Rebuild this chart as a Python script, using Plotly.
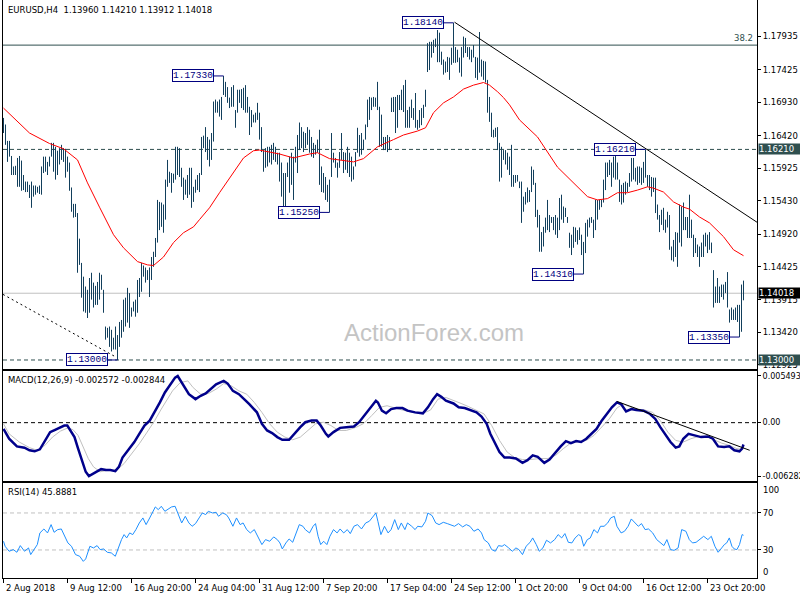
import plotly.graph_objects as go

# ---------------- data ----------------
bar_high = [1.1669,1.1659,1.1634,1.1634,1.1611,1.1595,1.1596,1.1608,1.1611,1.1604,
1.1582,1.1572,1.1572,1.1567,1.1572,1.1566,1.1566,1.1564,1.1566,1.1595,
1.1610,1.1610,1.1602,1.1610,1.1631,1.1631,1.1625,1.1619,1.1623,1.1628,
1.1623,1.1622,1.1610,1.1601,1.1563,1.1538,1.1538,1.1524,1.1485,1.1448,
1.1427,1.1412,1.1407,1.1425,1.1433,1.1418,1.1413,1.1419,1.1433,1.1430,
1.1407,1.1351,1.1349,1.1351,1.1346,1.1334,1.1351,1.1338,1.1358,1.1361,
1.1392,1.1395,1.1410,1.1402,1.1380,1.1389,1.1392,1.1422,1.1425,1.1448,
1.1444,1.1441,1.1437,1.1441,1.1457,1.1465,1.1486,1.1544,1.1541,1.1540,
1.1537,1.1575,1.1605,1.1587,1.1585,1.1584,1.1625,1.1625,1.1623,1.1593,
1.1578,1.1575,1.1582,1.1593,1.1593,1.1564,1.1575,1.1582,1.1585,1.1640,
1.1642,1.1655,1.1640,1.1636,1.1646,1.1694,1.1697,1.1694,1.1697,1.1701,
1.1733,1.1724,1.1716,1.1700,1.1716,1.1719,1.1681,1.1712,1.1712,1.1713,
1.1715,1.1719,1.1701,1.1686,1.1681,1.1674,1.1677,1.1692,1.1677,1.1655,
1.1620,1.1623,1.1625,1.1625,1.1628,1.1631,1.1625,1.1616,1.1616,1.1601,
1.1585,1.1585,1.1601,1.1610,1.1616,1.1610,1.1625,1.1643,1.1662,1.1655,
1.1648,1.1646,1.1655,1.1651,1.1640,1.1631,1.1628,1.1636,1.1651,1.1595,
1.1585,1.1579,1.1567,1.1575,1.1646,1.1616,1.1608,1.1601,1.1617,1.1646,
1.1617,1.1616,1.1625,1.1616,1.1610,1.1595,1.1617,1.1654,1.1643,1.1646,
1.1636,1.1659,1.1697,1.1701,1.1700,1.1701,1.1700,1.1724,1.1686,1.1674,
1.1640,1.1640,1.1643,1.1640,1.1700,1.1701,1.1701,1.1704,1.1704,1.1712,
1.1719,1.1727,1.1681,1.1686,1.1697,1.1684,1.1707,1.1666,1.1681,1.1684,
1.1689,1.1712,1.1783,1.1785,1.1785,1.1788,1.1790,1.1803,1.1799,1.1770,
1.1758,1.1755,1.1762,1.1761,1.1776,1.1814,1.1777,1.1773,1.1761,1.1777,
1.1793,1.1791,1.1777,1.1777,1.1773,1.1780,1.1762,1.1761,1.1800,1.1758,
1.1756,1.1755,1.1727,1.1701,1.1677,1.1651,1.1654,1.1655,1.1631,1.1625,
1.1620,1.1620,1.1616,1.1610,1.1628,1.1582,1.1582,1.1582,1.1572,1.1572,
1.1549,1.1556,1.1563,1.1559,1.1595,1.1590,1.1570,1.1529,1.1521,1.1495,
1.1503,1.1517,1.1544,1.1521,1.1518,1.1518,1.1521,1.1517,1.1547,1.1552,
1.1534,1.1532,1.1518,1.1494,1.1491,1.1503,1.1502,1.1498,1.1502,1.1491,
1.1480,1.1509,1.1514,1.1517,1.1518,1.1514,1.1544,1.1544,1.1544,1.1544,
1.1575,1.1601,1.1601,1.1605,1.1601,1.1610,1.1613,1.1601,1.1575,1.1567,
1.1570,1.1572,1.1570,1.1585,1.1608,1.1608,1.1593,1.1595,1.1595,1.1593,
1.1602,1.1621,1.1582,1.1582,1.1579,1.1578,1.1578,1.1537,1.1521,1.1529,
1.1532,1.1514,1.1526,1.1521,1.1473,1.1483,1.1495,1.1494,1.1537,1.1534,
1.1540,1.1518,1.1518,1.1552,1.1514,1.1491,1.1486,1.1476,1.1473,1.1479,
1.1491,1.1494,1.1491,1.1495,1.1479,1.1437,1.1412,1.1425,1.1412,1.1415,
1.1415,1.1419,1.1434,1.1377,1.1380,1.1377,1.1380,1.1384,1.1384,1.1415,
1.1421]
bar_low = [1.1646,1.1628,1.1602,1.1610,1.1582,1.1582,1.1582,1.1564,1.1564,1.1558,
1.1559,1.1556,1.1556,1.1547,1.1532,1.1549,1.1552,1.1555,1.1553,1.1552,
1.1585,1.1587,1.1582,1.1595,1.1610,1.1587,1.1575,1.1582,1.1598,1.1605,
1.1602,1.1578,1.1587,1.1558,1.1526,1.1517,1.1518,1.1433,1.1445,1.1395,
1.1374,1.1372,1.1364,1.1372,1.1392,1.1380,1.1384,1.1384,1.1392,1.1407,
1.1372,1.1331,1.1334,1.1320,1.1313,1.1316,1.1316,1.1300,1.1320,1.1334,
1.1343,1.1351,1.1357,1.1349,1.1366,1.1374,1.1366,1.1372,1.1396,1.1404,
1.1427,1.1418,1.1422,1.1396,1.1422,1.1442,1.1457,1.1479,1.1498,1.1503,
1.1494,1.1514,1.1564,1.1570,1.1555,1.1570,1.1575,1.1582,1.1579,1.1564,
1.1544,1.1552,1.1547,1.1552,1.1532,1.1541,1.1555,1.1559,1.1556,1.1582,
1.1623,1.1617,1.1605,1.1595,1.1605,1.1633,1.1677,1.1677,1.1671,1.1666,
1.1704,1.1701,1.1692,1.1684,1.1686,1.1686,1.1654,1.1677,1.1692,1.1684,
1.1681,1.1677,1.1677,1.1643,1.1655,1.1662,1.1662,1.1666,1.1636,1.1617,
1.1587,1.1593,1.1595,1.1601,1.1598,1.1605,1.1602,1.1598,1.1572,1.1549,
1.1534,1.1530,1.1579,1.1555,1.1567,1.1544,1.1601,1.1585,1.1620,1.1623,
1.1617,1.1623,1.1628,1.1616,1.1610,1.1608,1.1613,1.1616,1.1567,1.1556,
1.1555,1.1544,1.1541,1.1525,1.1579,1.1601,1.1593,1.1578,1.1593,1.1605,
1.1585,1.1590,1.1585,1.1579,1.1572,1.1575,1.1595,1.1616,1.1610,1.1613,
1.1620,1.1636,1.1655,1.1666,1.1681,1.1686,1.1686,1.1681,1.1625,1.1625,
1.1620,1.1620,1.1617,1.1620,1.1678,1.1678,1.1646,1.1654,1.1681,1.1681,
1.1678,1.1654,1.1654,1.1654,1.1669,1.1666,1.1654,1.1651,1.1654,1.1658,
1.1669,1.1686,1.1739,1.1742,1.1761,1.1768,1.1777,1.1754,1.1754,1.1750,
1.1735,1.1738,1.1739,1.1727,1.1750,1.1753,1.1753,1.1754,1.1738,1.1732,
1.1761,1.1768,1.1762,1.1758,1.1754,1.1761,1.1730,1.1727,1.1738,1.1732,
1.1727,1.1723,1.1677,1.1663,1.1640,1.1639,1.1640,1.1620,1.1572,1.1578,
1.1605,1.1598,1.1590,1.1582,1.1564,1.1564,1.1570,1.1572,1.1562,1.1509,
1.1526,1.1537,1.1540,1.1541,1.1556,1.1567,1.1518,1.1502,1.1465,1.1465,
1.1473,1.1494,1.1498,1.1495,1.1509,1.1498,1.1491,1.1486,1.1498,1.1514,
1.1509,1.1518,1.1509,1.1471,1.1460,1.1471,1.1480,1.1476,1.1483,1.1460,
1.1431,1.1463,1.1488,1.1502,1.1509,1.1486,1.1498,1.1514,1.1529,1.1533,
1.1540,1.1559,1.1579,1.1582,1.1564,1.1578,1.1575,1.1575,1.1541,1.1537,
1.1540,1.1552,1.1556,1.1564,1.1572,1.1575,1.1572,1.1567,1.1570,1.1567,
1.1570,1.1578,1.1564,1.1559,1.1549,1.1556,1.1524,1.1514,1.1495,1.1506,
1.1498,1.1494,1.1502,1.1468,1.1452,1.1450,1.1457,1.1442,1.1479,1.1473,
1.1498,1.1498,1.1486,1.1486,1.1486,1.1457,1.1463,1.1457,1.1442,1.1457,
1.1457,1.1473,1.1463,1.1468,1.1463,1.1380,1.1387,1.1387,1.1387,1.1396,
1.1392,1.1402,1.1380,1.1357,1.1361,1.1361,1.1361,1.1358,1.1335,1.1343,
1.1391]
bar_index = list(range(1, len(bar_high) + 1))

ma_index = [1,14,24,31,38,43,49,56,61,68,73,76,81,86,91,96,99,104,109,116,121,126,129,139,146,
            154,158,164,176,181,188,196,201,208,212,216,221,226,231,236,241,244,248,251,254,259,
            268,278,286,293,298,303,308,313,318,323,326,331,336,341,344,349,354,361,366,371]
ma_value = [1.1684,1.1646,1.1630,1.1622,1.1605,1.1570,1.1533,1.1491,1.1471,1.1450,1.1445,1.1444,
            1.1457,1.1479,1.1494,1.1503,1.1514,1.1532,1.1555,1.1587,1.1608,1.1619,1.1620,1.1614,
            1.1608,1.1614,1.1616,1.1607,1.1602,1.1607,1.1625,1.1636,1.1643,1.1649,1.1654,1.1677,
            1.1692,1.1701,1.1713,1.1719,1.1723,1.1719,1.1709,1.1700,1.1689,1.1666,1.1640,1.1594,
            1.1570,1.1549,1.1544,1.1546,1.1555,1.1555,1.1559,1.1564,1.1562,1.1556,1.1541,1.1533,
            1.1530,1.1518,1.1509,1.1488,1.1468,1.1459]

macd_index = [1,3.8,7.7,11.5,14.0,16.6,19.2,22.2,24.3,26.8,28.9,31.4,32.9,34.5,36.5,38.3,40.1,42.1,
              43.7,46.0,49.8,52.3,54.4,56.9,58.7,60.5,62.6,64.6,66.4,68.9,71.5,74.1,76.6,79.2,81.7,
              84.3,86.8,88.1,90.1,91.9,93.7,97.0,99.6,102.1,104.7,107.3,111.1,113.1,115.7,118.7,
              121.3,123.9,127.7,130.2,132.8,135.3,137.9,140.4,143.8,146.3,149.4,151.9,155.0,157.6,
              159.6,162.2,163.4,166.0,169.3,172.4,176.2,178.8,182.1,185.1,187.2,188.2,190.2,192.3,
              194.8,197.4,200.5,203.0,206.8,210.7,213.2,215.8,217.8,219.9,222.2,226.0,228.6,231.6,
              234.2,237.5,240.0,242.6,244.4,246.4,249.0,251.5,254.1,257.2,260.5,263.0,265.6,268.1,
              271.4,274.0,277.1,279.6,282.2,284.7,287.3,289.8,292.4,294.9,297.5,300.1,302.6,305.2,
              307.7,309.8,312.3,314.9,317.4,321.0,324.3,326.9,329.4,332.0,334.5,337.1,338.9,340.9,
              343.5,346.5,349.8,353.2,355.7,358.3,361.3,363.9,366.4,369.0,370.3,371]
macd_value = [-0.00073,-0.00189,-0.00279,-0.00294,-0.00325,-0.00337,-0.00314,-0.00189,-0.00111,
              -0.00084,-0.00061,-0.00034,-0.00034,-0.00092,-0.0017,-0.00306,-0.00442,-0.00578,
              -0.00628,-0.00597,-0.00547,-0.00558,-0.00558,-0.0057,-0.0052,-0.00411,-0.00345,
              -0.00287,-0.00228,-0.00131,-0.00034,0.00024,0.00122,0.00238,0.00355,0.00452,0.0053,
              0.00549,0.00472,0.00394,0.00335,0.00277,0.00316,0.00343,0.00394,0.00452,0.00491,
              0.0046,0.00374,0.00335,0.00277,0.00219,0.00122,-0.00014,-0.00092,-0.00123,-0.0017,
              -0.00201,-0.00201,-0.00131,-0.00053,0.00005,0.00024,0.00024,-0.00034,-0.00131,
              -0.00162,-0.00111,-0.00061,-0.00053,-0.00045,0.00005,0.00102,0.00199,0.00258,0.00238,
              0.00141,0.0011,0.0016,0.00172,0.00172,0.00141,0.00121,0.0011,0.0018,0.00277,0.00335,
              0.00304,0.00258,0.00226,0.0018,0.00172,0.00148,0.00121,0.00071,-0.00014,-0.00131,
              -0.00228,-0.00345,-0.00411,-0.00411,-0.00422,-0.00473,-0.00442,-0.00384,-0.00403,
              -0.00473,-0.00434,-0.00345,-0.00279,-0.00217,-0.0024,-0.00217,-0.00228,-0.00189,
              -0.00131,-0.00073,0.00024,0.00102,0.0018,0.00238,0.00219,0.00133,0.0016,0.00148,
              0.00141,0.00102,0.00044,-0.00053,-0.0015,-0.00228,-0.00294,-0.00279,-0.00189,-0.00131,
              -0.0015,-0.0017,-0.00162,-0.00189,-0.00279,-0.00286,-0.00279,-0.00325,-0.00337,
              -0.00306,-0.002572]
signal_index = [1,3.8,8.9,14.0,17.9,21.7,25.5,29.4,33.2,35.8,38.3,40.9,43.4,46.0,49.3,53.6,57.5,
                61.3,65.1,68.9,72.8,76.6,79.9,83.0,85.5,89.4,93.2,95.8,99.6,103.4,107.3,111.1,114.9,
                118.7,122.6,126.4,130.2,134.1,137.9,141.7,145.6,149.4,153.2,157.0,160.9,164.7,168.5,
                172.4,177.5,181.3,185.1,189.0,192.8,196.6,200.5,205.6,210.7,214.5,218.3,222.2,226.0,
                229.8,233.7,237.5,241.3,245.1,249.0,252.8,256.6,260.5,264.3,269.4,273.2,277.1,280.9,
                284.7,288.6,292.4,296.2,300.1,303.9,307.7,310.8,314.1,317.9,321.7,325.6,329.4,333.2,
                337.1,340.9,344.7,348.5,352.4,356.2,360.0,363.9,367.7,370.3,371]
signal_value = [-0.00014,-0.00131,-0.00228,-0.00294,-0.00325,-0.00267,-0.0017,-0.001,-0.00061,
                -0.00084,-0.0015,-0.00287,-0.00423,-0.0052,-0.00578,-0.00558,-0.00558,-0.00481,
                -0.00364,-0.00248,-0.00112,0.00024,0.0016,0.00277,0.00374,0.00472,0.00491,0.00413,
                0.00335,0.00343,0.00394,0.0046,0.00433,0.00374,0.00335,0.00238,0.00121,-0.00014,
                -0.00112,-0.0017,-0.00201,-0.0017,-0.00092,-0.00014,0.00005,-0.00034,-0.00092,
                -0.00092,-0.00053,-0.00007,0.00083,0.0018,0.00199,0.00172,0.00148,0.00121,0.0011,
                0.00148,0.00277,0.00296,0.00265,0.00226,0.00187,0.00148,0.00102,-0.00034,-0.00209,
                -0.00345,-0.00411,-0.00434,-0.00434,-0.00422,-0.00422,-0.00384,-0.00306,-0.0024,
                -0.00228,-0.00209,-0.0015,-0.00053,0.00044,0.00172,0.00219,0.00187,0.0016,0.00148,
                0.00121,0.00024,-0.00112,-0.00209,-0.00228,-0.00189,-0.00162,-0.00162,-0.00201,
                -0.0024,-0.00267,-0.00306,-0.00314,-0.002844]

rsi_index = [1,1.8,3.8,5.9,7.7,9.4,11.5,13.5,14.6,16.1,17.9,19.2,21.2,23.0,24.8,26.3,28.1,29.9,31.4,
             33.2,35.0,37.0,39.1,40.9,42.1,44.2,46.0,47.8,49.3,51.1,52.9,54.9,56.9,58.7,60.0,61.3,
             62.6,64.1,65.6,67.2,68.9,70.7,72.3,74.1,75.3,76.9,78.4,79.9,81.7,83.0,85.0,86.8,88.1,
             90.1,91.9,93.7,95.3,97.0,98.8,100.4,102.1,103.4,105.5,107.3,108.5,110.6,112.4,113.6,
             115.7,117.5,119.3,120.8,122.6,124.4,126.4,128.4,130.2,132.0,134.1,136.1,137.9,139.2,
             140.4,142.2,143.8,145.6,147.3,148.9,150.7,151.9,154.0,155.8,157.0,158.3,159.6,161.1,
             162.7,164.2,166.0,167.8,169.3,171.1,172.9,174.4,176.2,178.0,180.0,182.1,183.9,185.6,
             187.2,188.2,189.7,191.5,193.3,194.8,196.6,198.4,199.9,201.7,203.0,205.1,206.8,208.1,
             210.2,212.0,213.2,215.3,217.1,218.8,220.9,222.9,224.7,226.5,228.5,230.6,232.4,234.2,
             236.2,238.3,240.0,241.3,243.4,245.1,246.9,248.5,250.3,251.5,253.6,255.4,257.2,258.7,
             260.5,262.3,264.3,265.6,267.4,268.9,270.7,272.5,274.5,276.6,278.3,280.1,281.7,283.4,
             285.2,286.8,288.6,289.8,291.1,292.9,294.4,296.2,298.0,299.5,301.3,303.1,304.6,306.4,
             307.7,309.8,311.5,313.3,314.9,316.6,318.4,320.0,321.8,323.5,325.6,327.6,329.4,331.2,
             332.7,334.5,336.3,338.3,340.1,342.2,343.9,345.5,347.3,349.1,351.1,353.2,354.9,356.7,
             358.3,360.1,361.4,362.6,363.9,365.2,366.4,367.7,369.0,370.3,371]
rsi_value = [39.4,34.0,28.6,30.4,27.5,34.7,28.6,32.2,25.0,30.4,35.8,48.4,52.7,48.4,57.4,49.1,52.0,
             52.7,46.6,37.6,34.0,25.0,23.2,17.7,20.3,34.0,32.2,34.7,30.4,31.1,27.5,26.8,23.2,34.0,
             41.2,46.6,43.0,48.4,46.6,52.0,59.2,64.6,57.4,64.6,70.0,76.5,73.6,77.2,71.8,73.6,76.5,
             77.2,70.0,59.2,66.4,59.2,55.6,58.5,64.6,70.0,68.2,71.8,70.0,70.7,66.4,70.0,68.2,64.6,
             55.6,64.6,57.4,59.2,52.0,48.4,52.0,43.0,35.8,41.2,39.4,44.1,41.2,37.6,31.1,37.6,41.9,
             38.3,48.4,57.4,55.6,52.0,48.4,55.6,58.5,44.8,35.8,39.4,35.8,44.8,52.0,48.4,52.7,48.4,
             52.0,47.7,55.6,57.4,52.7,59.2,61.0,65.7,70.0,61.0,46.6,55.6,48.4,52.0,62.8,52.0,59.2,
             52.0,59.2,55.6,52.0,55.6,54.9,61.0,70.0,67.1,59.2,57.4,59.9,58.5,57.4,55.6,58.5,54.9,
             57.4,55.6,50.2,52.7,48.4,41.2,37.6,30.4,28.6,34.7,34.0,35.8,32.2,28.6,32.2,30.4,25.0,
             34.0,38.3,43.0,35.8,28.6,32.2,40.5,37.6,41.2,46.6,43.0,47.7,38.3,37.6,43.0,46.6,44.8,
             34.0,41.2,43.0,52.0,48.4,55.6,55.6,59.2,64.6,66.4,55.6,48.4,50.2,55.6,63.5,59.2,55.6,
             58.5,52.0,52.7,48.4,41.2,37.6,34.7,41.2,30.4,29.6,32.2,52.0,50.2,41.2,37.6,38.3,41.2,
             44.8,41.2,44.8,34.0,27.5,32.2,35.8,37.6,43.0,34.0,31.1,30.4,35.8,46.6,45.9]

price_ticks = [1.17935, 1.17425, 1.16930, 1.16420, 1.15925, 1.15430, 1.14920, 1.14425, 1.13915, 1.13420, 1.12925]
macd_ticks = [0.005493, 0.0, -0.006282]
macd_tick_text = ["0.005493", "0.00", "-0.006282"]
rsi_ticks = [70, 30]
rsi_levels = [70, 30]

time_tick_index = [1, 33, 65, 97, 129, 161, 193, 225, 257, 289, 321, 353]
time_tick_text = ["2 Aug 2018", "9 Aug 12:00", "16 Aug 20:00", "24 Aug 04:00", "31 Aug 12:00",
                  "7 Sep 20:00", "17 Sep 04:00", "24 Sep 12:00", "1 Oct 20:00", "9 Oct 04:00",
                  "16 Oct 12:00", "23 Oct 20:00"]

fib_level = 1.1780
resistance_level = 1.16210
support_level = 1.13000
last_close = 1.14018

trend_down_x = [226.5, 377.75]
trend_down_y = [1.1815, 1.1510]
trend_low_x = [0.75, 57.5]
trend_low_y = [1.1400, 1.1304]
macd_trend_x = [307.7, 374.1]
macd_trend_y = [0.0025, -0.00325]

pivot_index = [226, 111, 164, 58, 291, 322, 369]
pivot_price = [1.18140, 1.17330, 1.15250, 1.13000, 1.14310, 1.16210, 1.13350]

# ---------------- styling ----------------
BAR = "#123f5c"
SLATE = "#2f4f4f"
NAVY = "#000080"
FONT = "DejaVu Sans"
FS = 8.5
XR = [0.75, 377.75]

fig = go.Figure()

bx, by = [], []
for i, h, l in zip(bar_index, bar_high, bar_low):
    bx += [i, i, None]
    by += [l, h, None]
fig.add_trace(go.Scatter(x=bx, y=by, mode="lines", line=dict(color=BAR, width=1),
                         xaxis="x", yaxis="y", hoverinfo="skip"))
fig.add_trace(go.Scatter(x=ma_index, y=ma_value, mode="lines", line=dict(color="#ff0000", width=1),
                         xaxis="x", yaxis="y", hoverinfo="skip"))
fig.add_trace(go.Scatter(x=signal_index, y=signal_value, mode="lines", line=dict(color="#c0c0c0", width=1),
                         xaxis="x2", yaxis="y2", hoverinfo="skip"))
fig.add_trace(go.Scatter(x=macd_index, y=macd_value, mode="lines", line=dict(color="#00008b", width=2.5),
                         xaxis="x2", yaxis="y2", hoverinfo="skip"))
fig.add_trace(go.Scatter(x=rsi_index, y=rsi_value, mode="lines", line=dict(color="#1e90ff", width=1),
                         xaxis="x3", yaxis="y3", hoverinfo="skip"))

# level lines
fig.add_shape(type="line", xref="x domain", yref="y", x0=0, x1=1, y0=fib_level, y1=fib_level,
              line=dict(color=SLATE, width=1), layer="below")
for lv in (resistance_level, support_level):
    fig.add_shape(type="line", xref="x domain", yref="y", x0=0, x1=1, y0=lv, y1=lv,
                  line=dict(color=SLATE, width=1, dash="4px,3px"), layer="below")
fig.add_shape(type="line", xref="x domain", yref="y", x0=0, x1=1, y0=last_close, y1=last_close,
              line=dict(color="#c0c0c0", width=1), layer="below")
fig.add_shape(type="line", xref="x", yref="y", x0=trend_down_x[0], x1=trend_down_x[1],
              y0=trend_down_y[0], y1=trend_down_y[1], line=dict(color="black", width=1))
fig.add_shape(type="line", xref="x", yref="y", x0=trend_low_x[0], x1=trend_low_x[1],
              y0=trend_low_y[0], y1=trend_low_y[1], line=dict(color="black", width=1, dash="2px,3px"))
fig.add_shape(type="line", xref="x2 domain", yref="y2", x0=0, x1=1, y0=0, y1=0,
              line=dict(color="black", width=1, dash="4px,3px"), layer="below")
fig.add_shape(type="line", xref="x2", yref="y2", x0=macd_trend_x[0], x1=macd_trend_x[1],
              y0=macd_trend_y[0], y1=macd_trend_y[1], line=dict(color="black", width=1))
for lv in rsi_levels:
    fig.add_shape(type="line", xref="x3 domain", yref="y3", x0=0, x1=1, y0=lv, y1=lv,
                  line=dict(color="#c0c0c0", width=1, dash="4px,3px"), layer="below")

ann = []
# pivot labels
for i, p in zip(pivot_index, pivot_price):
    ann.append(dict(x=i, y=p, xref="x", yref="y", text=f"{p:.5f}", showarrow=True,
                    arrowhead=0, arrowwidth=1, arrowcolor=NAVY, ax=-31, ay=0, standoff=0,
                    font=dict(family="Liberation Mono", size=9.5, color=NAVY),
                    bgcolor="white", bordercolor=NAVY, borderwidth=1, borderpad=0))
# right-side highlighted prices
for p, bg in ((resistance_level, SLATE), (support_level, SLATE), (last_close, "black")):
    ann.append(dict(x=1, y=p, xref="paper", yref="y", xanchor="left", yanchor="middle", xshift=1,
                    text=f"{p:.5f}", showarrow=False, align="left", width=44, bgcolor=bg, borderpad=0,
                    font=dict(family=FONT, size=FS, color="white")))
ann.append(dict(x=1, y=fib_level, xref="paper", yref="y", xanchor="right", yanchor="bottom",
                xshift=-2, yshift=0, text="38.2", showarrow=False,
                font=dict(family=FONT, size=FS, color=SLATE)))
# RSI scale end labels (drawn inside the window, as the terminal does)
ann.append(dict(x=1, y=0.1522, xref="paper", yref="paper", xanchor="left", yanchor="middle", xshift=4,
                text="100", showarrow=False, font=dict(family=FONT, size=FS, color="black")))
ann.append(dict(x=1, y=0.0104, xref="paper", yref="paper", xanchor="left", yanchor="middle", xshift=4,
                text="0", showarrow=False, font=dict(family=FONT, size=FS, color="black")))
# titles
ann.append(dict(x=0, y=1, xref="paper", yref="paper", xanchor="left", yanchor="top", xshift=3, yshift=-3,
                text="EURUSD,H4  1.13960 1.14210 1.13912 1.14018", showarrow=False,
                font=dict(family=FONT, size=FS, color="black")))
ann.append(dict(x=0, y=0.3581, xref="paper", yref="paper", xanchor="left", yanchor="top", xshift=3, yshift=-2,
                text="MACD(12,26,9) -0.002572 -0.002844", showarrow=False,
                font=dict(family=FONT, size=FS, color="black")))
ann.append(dict(x=0, y=0.1644, xref="paper", yref="paper", xanchor="left", yanchor="top", xshift=3, yshift=-2,
                text="RSI(14) 45.8881", showarrow=False,
                font=dict(family=FONT, size=FS, color="black")))
# watermark
ann.append(dict(x=0.5716, y=0.4239, xref="paper", yref="paper", xanchor="center", yanchor="middle",
                text="ActionForex.com", showarrow=False,
                font=dict(family="Liberation Sans", size=24, color="#c4c4c4")))
# time labels
for ti, tt in zip(time_tick_index, time_tick_text):
    ann.append(dict(x=ti, y=0, xref="x3", yref="paper", xanchor="left", yanchor="top", xshift=0, yshift=-3,
                    text=tt, showarrow=False, font=dict(family=FONT, size=FS, color="black")))

axis_common = dict(showline=True, linecolor="black", linewidth=1, mirror=True, showgrid=False,
                   zeroline=False, automargin=False)
fig.update_layout(
    template="none", width=800, height=600,
    margin=dict(l=3, r=43, t=0, b=22), paper_bgcolor="white", plot_bgcolor="white",
    showlegend=False, annotations=ann,
    xaxis=dict(domain=[0, 1], range=XR, anchor="y", showticklabels=False, ticks="", **axis_common),
    xaxis2=dict(domain=[0, 1], range=XR, anchor="y2", showticklabels=False, ticks="", matches="x", **axis_common),
    xaxis3=dict(domain=[0, 1], range=XR, anchor="y3", showticklabels=False, ticks="outside", ticklen=4,
                tickcolor="black", tickvals=time_tick_index, matches="x", **axis_common),
    yaxis=dict(domain=[0.3616, 1.0], range=[1.128628, 1.184878], anchor="x", side="right",
               tickvals=price_ticks, ticktext=[f"{v:.5f}" for v in price_ticks], ticks="outside",
               ticklen=3, tickcolor="black", tickfont=dict(family=FONT, size=FS, color="black"), **axis_common),
    yaxis2=dict(domain=[0.1678, 0.3581], range=[-0.006865, 0.006076], anchor="x2", side="right",
                tickvals=macd_ticks, ticktext=macd_tick_text, ticks="outside", ticklen=3, tickcolor="black",
                tickfont=dict(family=FONT, size=8, color="black"), **axis_common),
    yaxis3=dict(domain=[0.0, 0.1644], range=[-0.3, 102.4], anchor="x3", side="right",
                tickvals=rsi_ticks, ticktext=[str(v) for v in rsi_ticks], ticks="outside", ticklen=3,
                tickcolor="black", tickfont=dict(family=FONT, size=FS, color="black"), **axis_common),
)
fig.write_html("out.html", config={"displayModeBar": False},
               post_script="document.body.style.margin='0';document.body.style.padding='0';")
